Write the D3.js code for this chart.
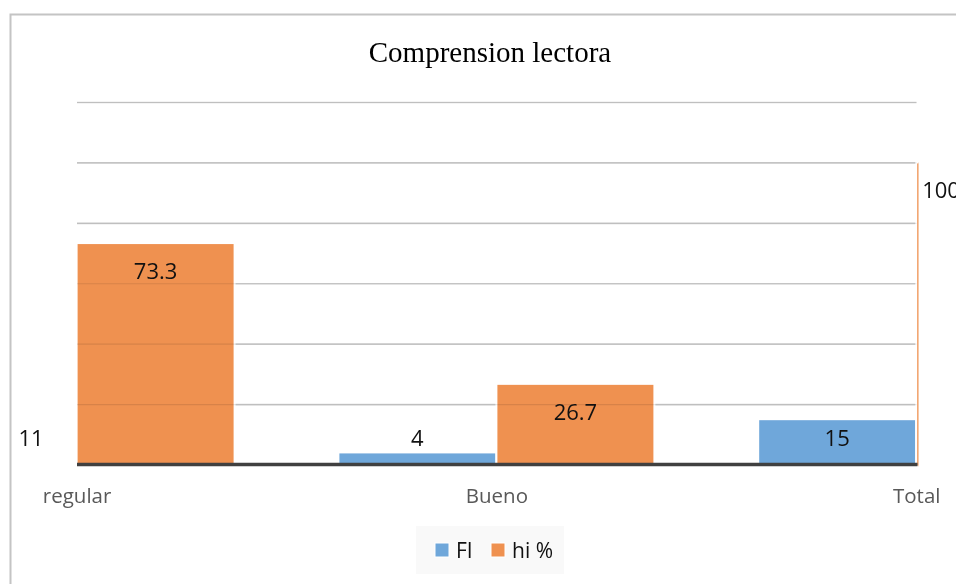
<!DOCTYPE html>
<html>
<head>
<meta charset="utf-8">
<script src="https://cdn.jsdelivr.net/npm/d3@7/dist/d3.min.js"></script>
<style>
  html, body { margin: 0; padding: 0; background: #fff; }
  svg { display: block; }
</style>
</head>
<body>
<svg id="chart" width="956" height="584"></svg>
<script>
const categories = ["regular", "Bueno", "Total"];
const seriesNames = ["FI", "hi %"];
const fiValues = [11, 4, 15];
const hiValues = [73.3, 26.7, 100];
const yTicks = [0, 20, 40, 60, 80, 100, 120];
const titleText = "Comprension lectora";

const colors = { "FI": "#6FA7DA", "hi %": "#EF9150" };
const labelFont = "'Open Sans', 'Noto Sans', sans-serif";

const svg = d3.select("#chart");

// outer chart border
svg.append("rect")
  .attr("x", 10.5).attr("y", 14.5)
  .attr("width", 980).attr("height", 600)
  .attr("fill", "#fff")
  .attr("stroke", "#c4c4c4").attr("stroke-width", 2);

const plotLeft = 77, plotRight = 916.5;
const y = d3.scaleLinear().domain([0, 120]).range([464.5, 102]);
const x = d3.scalePoint().domain(categories).range([76.6, 916.2]);
const sub = d3.scaleBand().domain(seriesNames).range([-158, 158]);

// clip for bars
svg.append("defs").append("clipPath").attr("id", "plotClip")
  .append("rect").attr("x", plotLeft).attr("y", 0)
  .attr("width", 918.5 - plotLeft).attr("height", 584);

// gridlines
const grid = svg.append("g")
  .attr("transform", `translate(${plotLeft},0)`)
  .call(d3.axisLeft(y).tickValues(yTicks).tickSize(-(plotRight - plotLeft)).tickFormat(""));
grid.select(".domain").remove();
grid.selectAll(".tick line").attr("stroke", "#d4d4d4").attr("stroke-width", 1.6);

// data table
const rows = categories.map((c, i) => ({
  cat: c,
  values: [
    { key: "FI", value: fiValues[i] },
    { key: "hi %", value: hiValues[i] }
  ]
}));

const barsG = svg.append("g").attr("clip-path", "url(#plotClip)");
const groups = barsG.selectAll("g.grp").data(rows).join("g")
  .attr("class", "grp")
  .attr("transform", d => `translate(${x(d.cat)},0)`);

groups.selectAll("rect").data(d => d.values).join("rect")
  .attr("x", d => sub(d.key))
  .attr("width", sub.bandwidth())
  .attr("y", d => y(d.value))
  .attr("height", d => y(0) - y(d.value) + 2)
  .attr("fill", d => colors[d.key])
  .attr("stroke", "#fff").attr("stroke-width", 2);

// faint gridlines visible through bars
const grid2 = svg.append("g")
  .attr("transform", `translate(${plotLeft},0)`)
  .attr("opacity", 0.1)
  .call(d3.axisLeft(y).tickValues(yTicks.slice(1)).tickSize(-(plotRight - plotLeft)).tickFormat(""));
grid2.select(".domain").remove();
grid2.selectAll(".tick line").attr("stroke", "#000").attr("stroke-width", 1.2);

// baseline
svg.append("line")
  .attr("x1", plotLeft).attr("x2", plotRight + 1)
  .attr("y1", y(0)).attr("y2", y(0))
  .attr("stroke", "#404040").attr("stroke-width", 3.5);

// value labels (inside end, clamped to chart area)
const labelData = [];
rows.forEach(r => r.values.forEach(v => {
  const cx = x(r.cat) + sub(v.key) + sub.bandwidth() / 2;
  labelData.push({
    text: String(v.value),
    x: Math.max(31, Math.min(941, cx)),
    y: Math.min(y(v.value) + 28, y(0) - 27) + 8
  });
}));
svg.append("g").selectAll("text").data(labelData).join("text")
  .attr("x", d => d.x).attr("y", d => d.y)
  .attr("text-anchor", "middle")
  .attr("font-family", labelFont).attr("font-size", 22)
  .attr("fill", "#111")
  .text(d => d.text);

// category axis
const xAxis = svg.append("g")
  .attr("transform", `translate(0,${y(0)})`)
  .call(d3.axisBottom(x).tickSize(0).tickPadding(0));
xAxis.select(".domain").remove();
xAxis.selectAll("text")
  .attr("dy", null)
  .attr("y", 38)
  .attr("font-family", labelFont).attr("font-size", 20.5)
  .attr("fill", "#595959");

// title
svg.append("text")
  .attr("x", 490).attr("y", 62)
  .attr("text-anchor", "middle")
  .attr("font-family", "'Liberation Serif', 'Times New Roman', serif")
  .attr("font-size", 29)
  .attr("fill", "#000")
  .text(titleText);

// legend
const legend = svg.append("g");
legend.append("rect")
  .attr("x", 416).attr("y", 526).attr("width", 148).attr("height", 48)
  .attr("fill", "#f9f9f9");
const legendItems = [
  { key: "FI", sx: 435, tx: 456 },
  { key: "hi %", sx: 491, tx: 512 }
];
legend.selectAll("rect.sw").data(legendItems).join("rect")
  .attr("class", "sw")
  .attr("x", d => d.sx).attr("y", 543)
  .attr("width", 14).attr("height", 14)
  .attr("fill", d => colors[d.key])
  .attr("stroke", "#fff").attr("stroke-width", 1);
legend.selectAll("text").data(legendItems).join("text")
  .attr("x", d => d.tx).attr("y", 558)
  .attr("font-family", labelFont).attr("font-size", 21)
  .attr("fill", "#111")
  .text(d => d.key);
</script>
</body>
</html>
